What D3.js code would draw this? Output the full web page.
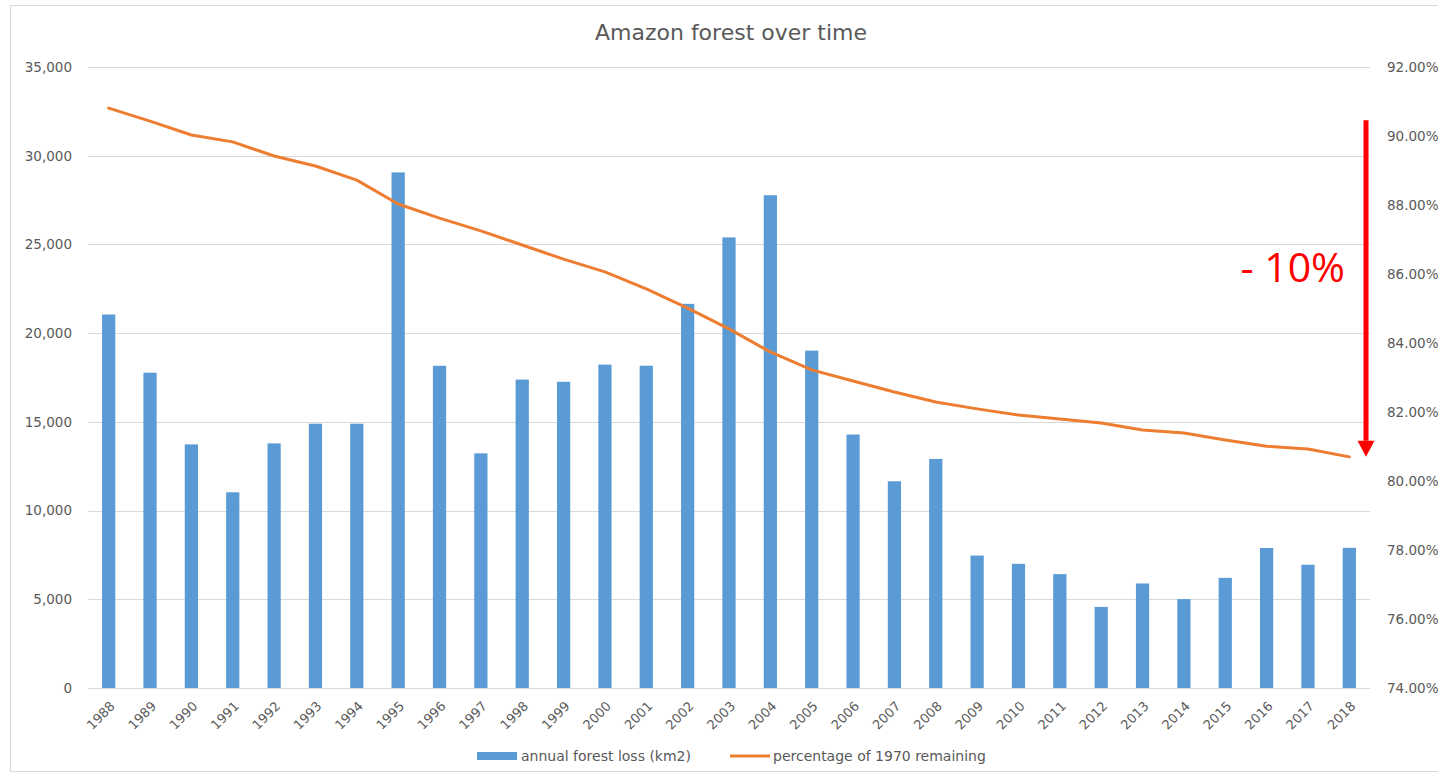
<!DOCTYPE html>
<html><head><meta charset="utf-8">
<script src="https://cdn.jsdelivr.net/npm/d3@7"></script>
<style>html,body{margin:0;padding:0;background:#fff;}svg{display:block;}</style>
</head><body>
<svg id="chart" width="1438" height="776"></svg>
<script>
const years = [1988,1989,1990,1991,1992,1993,1994,1995,1996,1997,1998,1999,2000,2001,2002,2003,2004,2005,2006,2007,2008,2009,2010,2011,2012,2013,2014,2015,2016,2017,2018];
const forestLoss = [21050,17770,13730,11030,13786,14896,14896,29059,18161,13227,17383,17259,18226,18165,21651,25396,27772,19014,14286,11651,12911,7464,7000,6418,4571,5891,5012,6207,7893,6947,7900];
const pctRemaining = [90.81,90.43,90.03,89.83,89.42,89.13,88.72,88.03,87.62,87.25,86.84,86.43,86.06,85.57,85.01,84.41,83.74,83.22,82.90,82.58,82.29,82.09,81.91,81.80,81.68,81.48,81.39,81.19,81.01,80.93,80.70];
const leftTicks = [0,5000,10000,15000,20000,25000,30000,35000];
const rightTicks = [74,76,78,80,82,84,86,88,90,92];
const title = "Amazon forest over time";
const legendLabels = ["annual forest loss (km2)", "percentage of 1970 remaining"];
const annotation = "- 10%";

const svg = d3.select("#chart");
const font = "'DejaVu Sans', sans-serif";
const textCol = "#595959";
const L = 88, R = 1370, T = 67, B = 688;

svg.append("rect").attr("x",10.5).attr("y",5.5).attr("width",1440).attr("height",766)
  .attr("fill","none").attr("stroke","#d9d9d9").attr("stroke-width",1);

const x = d3.scaleBand().domain(years).range([L,R]).paddingInner(0.68).paddingOuter(0.34);
const yL = d3.scaleLinear().domain([0,35000]).range([B,T]);
const yR = d3.scaleLinear().domain([74,92]).range([B,T]);

// gridlines
svg.append("g").selectAll("line").data(leftTicks).join("line")
  .attr("x1",L).attr("x2",R).attr("y1",d=>Math.round(yL(d))+0.5).attr("y2",d=>Math.round(yL(d))+0.5)
  .attr("stroke","#d9d9d9").attr("stroke-width",1);

// left axis
const axL = svg.append("g").attr("transform",`translate(${L},0)`)
  .call(d3.axisLeft(yL).tickValues(leftTicks).tickFormat(d3.format(",")).tickSize(0).tickPadding(16));
axL.select(".domain").remove();
axL.selectAll("text").attr("font-family",font).attr("font-size",13.5).attr("fill",textCol);

// right axis
const axR = svg.append("g").attr("transform",`translate(${R},0)`)
  .call(d3.axisRight(yR).tickValues(rightTicks).tickFormat(d=>d.toFixed(2)+"%").tickSize(0).tickPadding(17));
axR.select(".domain").remove();
axR.selectAll("text").attr("font-family",font).attr("font-size",13.5).attr("fill",textCol);

// bars
svg.append("g").selectAll("rect").data(years).join("rect")
  .attr("x",d=>x(d)).attr("width",x.bandwidth())
  .attr("y",(d,i)=>yL(forestLoss[i])).attr("height",(d,i)=>B-yL(forestLoss[i]))
  .attr("fill","#5B9BD5");

// x axis
const axX = svg.append("g").attr("transform",`translate(0,${B})`)
  .call(d3.axisBottom(x).tickSize(0).tickPadding(0));
axX.select(".domain").remove();
axX.selectAll("text").attr("font-family",font).attr("font-size",13).attr("fill",textCol)
  .attr("text-anchor","end").attr("dy",0)
  .attr("transform","translate(7,19) rotate(-45)");

// line
const line = d3.line().x((d,i)=>x(years[i])+x.bandwidth()/2).y(d=>yR(d));
svg.append("path").datum(pctRemaining).attr("d",line)
  .attr("fill","none").attr("stroke","#ED7D31").attr("stroke-width",3).attr("stroke-linejoin","round").attr("stroke-linecap","round");

// title
svg.append("text").attr("x",731).attr("y",40).attr("text-anchor","middle")
  .attr("font-family",font).attr("font-size",22).attr("fill",textCol).text(title);

// legend
const lg = svg.append("g");
lg.append("rect").attr("x",477).attr("y",752).attr("width",40).attr("height",8).attr("fill","#5B9BD5");
lg.append("text").attr("x",521).attr("y",761).attr("font-family",font).attr("font-size",14).attr("fill",textCol).text(legendLabels[0]);
lg.append("line").attr("x1",730).attr("x2",770).attr("y1",756).attr("y2",756).attr("stroke","#ED7D31").attr("stroke-width",3);
lg.append("text").attr("x",773).attr("y",761).attr("font-family",font).attr("font-size",14).attr("fill",textCol).text(legendLabels[1]);

// annotation arrow
const ax = 1366;
const tipY = yR(80.7);
svg.append("line").attr("x1",ax).attr("x2",ax).attr("y1",yR(90.46)).attr("y2",tipY-16)
  .attr("stroke","#FF0000").attr("stroke-width",5);
svg.append("path").attr("d",`M${ax-8.5},${tipY-16} L${ax+8.5},${tipY-16} L${ax},${tipY} Z`).attr("fill","#FF0000");
svg.append("text").attr("x",1345).attr("y",282).attr("text-anchor","end")
  .attr("font-family","'Open Sans', sans-serif").attr("font-size",41).attr("fill","#FF0000").text(annotation);
</script>
</body></html>
